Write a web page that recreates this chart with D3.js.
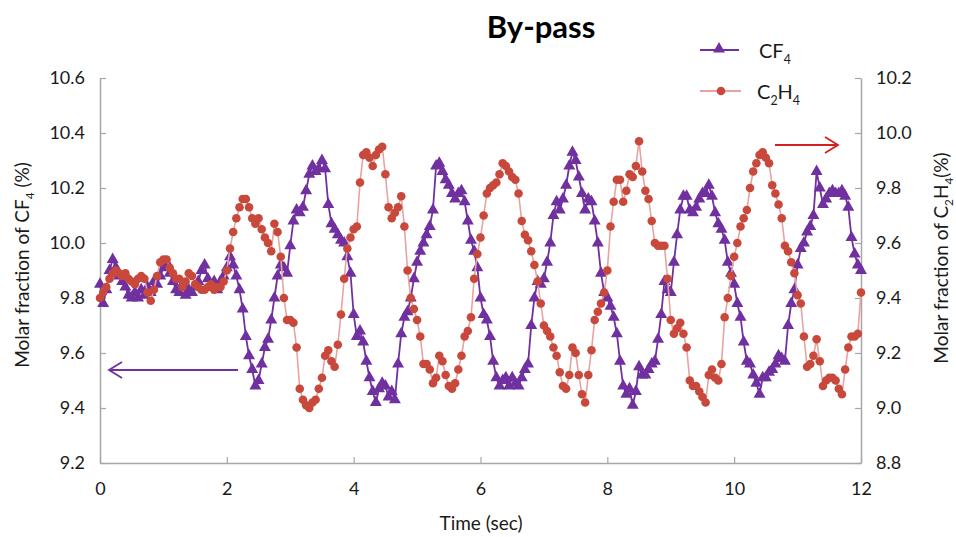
<!DOCTYPE html>
<html>
<head>
<meta charset="utf-8">
<script src="https://cdn.jsdelivr.net/npm/d3@7"></script>
<style>
  html, body { margin: 0; padding: 0; background: #fff; }
  svg { display: block; font-family: Lato, "Open Sans", sans-serif; }
</style>
</head>
<body>
<svg id="chart" width="956" height="537"></svg>
<script>
// ---------------- DATA ----------------
const chartTitle = "By-pass";
const xTicks = [0, 2, 4, 6, 8, 10, 12];
const leftTicks = [9.2, 9.4, 9.6, 9.8, 10.0, 10.2, 10.4, 10.6];
const rightTicks = [8.8, 9.0, 9.2, 9.4, 9.6, 9.8, 10.0, 10.2];

const timeSec = [
  0,0.05,0.1,0.15,0.2,0.25,0.3,0.35,0.4,0.45,0.5,0.55,0.6,0.65,0.7,0.75,0.8,0.85,0.9,0.95,
  1,1.05,1.1,1.15,1.2,1.25,1.3,1.35,1.4,1.45,1.5,1.55,1.6,1.65,1.7,1.75,1.8,1.85,1.9,1.95,
  2,2.05,2.1,2.15,2.2,2.25,2.3,2.35,2.4,2.45,2.5,2.55,2.6,2.65,2.7,2.75,2.8,2.85,2.9,2.95,
  3,3.05,3.1,3.15,3.2,3.25,3.3,3.35,3.4,3.45,3.5,3.55,3.6,3.65,3.7,3.75,3.8,3.85,3.9,3.95,
  4,4.05,4.1,4.15,4.2,4.25,4.3,4.35,4.4,4.45,4.5,4.55,4.6,4.65,4.7,4.75,4.8,4.85,4.9,4.95,
  5,5.05,5.1,5.15,5.2,5.25,5.3,5.35,5.4,5.45,5.5,5.55,5.6,5.65,5.7,5.75,5.8,5.85,5.9,5.95,
  6,6.05,6.1,6.15,6.2,6.25,6.3,6.35,6.4,6.45,6.5,6.55,6.6,6.65,6.7,6.75,6.8,6.85,6.9,6.95,
  7,7.05,7.1,7.15,7.2,7.25,7.3,7.35,7.4,7.45,7.5,7.55,7.6,7.65,7.7,7.75,7.8,7.85,7.9,7.95,
  8,8.05,8.1,8.15,8.2,8.25,8.3,8.35,8.4,8.45,8.5,8.55,8.6,8.65,8.7,8.75,8.8,8.85,8.9,8.95,
  9,9.05,9.1,9.15,9.2,9.25,9.3,9.35,9.4,9.45,9.5,9.55,9.6,9.65,9.7,9.75,9.8,9.85,9.9,9.95,
  10,10.05,10.1,10.15,10.2,10.25,10.3,10.35,10.4,10.45,10.5,10.55,10.6,10.65,10.7,10.75,10.8,10.85,10.9,10.95,
  11,11.05,11.1,11.15,11.2,11.25,11.3,11.35,11.4,11.45,11.5,11.55,11.6,11.65,11.7,11.75,11.8,11.85,11.9,11.95,
  12
];

// CF4 molar fraction (%), left axis
const cf4 = [
  9.85,9.78,9.83,9.90,9.94,9.91,9.88,9.86,9.84,9.81,9.80,9.82,9.80,9.83,9.81,9.84,9.82,9.86,9.85,9.88,
  9.91,9.93,9.89,9.86,9.83,9.82,9.85,9.81,9.83,9.82,9.84,9.86,9.90,9.92,9.87,9.84,9.86,9.83,9.86,9.88,
  9.91,9.95,9.92,9.88,9.83,9.76,9.66,9.59,9.54,9.48,9.50,9.56,9.62,9.65,9.72,9.80,9.88,9.92,9.91,9.89,
  9.99,10.08,10.12,10.11,10.13,10.19,10.25,10.28,10.26,10.27,10.30,10.27,10.14,10.07,10.05,10.03,10.01,10.00,9.95,9.89,
  9.74,9.66,9.68,9.64,9.57,9.51,9.46,9.42,9.47,9.49,9.48,9.44,9.46,9.43,9.56,9.67,9.73,9.75,9.80,9.87,
  9.93,9.97,10.00,10.03,10.06,10.12,10.28,10.29,10.26,10.23,10.21,10.18,10.16,10.18,10.19,10.15,10.08,10.01,9.97,9.91,
  9.80,9.74,9.72,9.66,9.57,9.51,9.48,9.50,9.51,9.48,9.51,9.49,9.48,9.51,9.54,9.56,9.70,9.80,9.86,9.85,
  9.87,9.93,10.00,10.10,10.15,10.12,10.16,10.21,10.28,10.33,10.30,10.24,10.18,10.12,10.16,10.15,10.08,10.00,9.89,9.82,
  9.80,9.77,9.73,9.67,9.57,9.48,9.45,9.47,9.41,9.46,9.55,9.52,9.52,9.54,9.56,9.57,9.65,9.74,9.86,9.83,
  9.82,9.93,10.03,10.12,10.17,10.17,10.12,10.11,10.13,10.16,10.18,10.18,10.21,10.17,10.11,10.07,10.05,10.01,9.93,9.89,
  9.85,9.78,9.73,9.64,9.57,9.56,9.52,9.49,9.45,9.51,9.51,9.53,9.54,9.56,9.59,9.58,9.57,9.70,9.78,9.83,
  9.92,9.98,10.00,10.04,10.06,10.10,10.26,10.20,10.14,10.16,10.18,10.19,10.18,10.18,10.19,10.17,10.13,10.02,9.96,9.92,
  9.90
];

// C2H4 molar fraction (%), right axis
const c2h4 = [
  9.40,9.42,9.44,9.47,9.49,9.50,9.49,9.48,9.49,9.47,9.46,9.45,9.47,9.48,9.47,9.42,9.39,9.43,9.48,9.53,
  9.54,9.54,9.51,9.49,9.47,9.47,9.44,9.46,9.49,9.48,9.45,9.44,9.43,9.43,9.44,9.45,9.43,9.44,9.44,9.46,
  9.50,9.58,9.64,9.69,9.73,9.76,9.76,9.73,9.69,9.67,9.69,9.65,9.62,9.60,9.57,9.67,9.64,9.55,9.40,9.32,
  9.32,9.31,9.22,9.07,9.03,9.01,9.00,9.02,9.03,9.07,9.11,9.19,9.21,9.17,9.15,9.23,9.34,9.47,9.58,9.62,
  9.65,9.66,9.82,9.92,9.93,9.91,9.88,9.92,9.94,9.95,9.85,9.73,9.69,9.71,9.73,9.77,9.66,9.50,9.40,9.36,
  9.32,9.26,9.16,9.16,9.14,9.09,9.11,9.19,9.17,9.12,9.08,9.07,9.09,9.14,9.19,9.26,9.28,9.33,9.47,9.56,
  9.62,9.70,9.78,9.80,9.81,9.82,9.85,9.89,9.88,9.86,9.84,9.83,9.78,9.68,9.63,9.61,9.57,9.52,9.46,9.38,
  9.30,9.28,9.26,9.22,9.19,9.13,9.08,9.07,9.12,9.22,9.20,9.12,9.05,9.02,9.12,9.21,9.32,9.35,9.38,9.42,
  9.50,9.66,9.75,9.83,9.83,9.75,9.79,9.85,9.84,9.88,9.97,9.86,9.79,9.76,9.68,9.60,9.59,9.59,9.59,9.47,
  9.32,9.27,9.29,9.31,9.27,9.22,9.10,9.08,9.08,9.06,9.04,9.02,9.12,9.14,9.11,9.10,9.16,9.33,9.40,9.48,
  9.55,9.60,9.66,9.69,9.72,9.80,9.86,9.89,9.92,9.93,9.91,9.89,9.81,9.78,9.74,9.69,9.59,9.57,9.53,9.49,
  9.41,9.38,9.26,9.15,9.16,9.19,9.25,9.17,9.08,9.10,9.11,9.11,9.10,9.07,9.05,9.14,9.22,9.26,9.26,9.27,
  9.42
];

// ---------------- CHART ----------------
const svg = d3.select("#chart");
const plot = { left: 100, right: 861, top: 78, bottom: 463 };

const x = d3.scaleLinear().domain([0, 12]).range([plot.left, plot.right]);
const yL = d3.scaleLinear().domain([9.2, 10.6]).range([plot.bottom, plot.top]);
const yR = d3.scaleLinear().domain([8.8, 10.2]).range([plot.bottom, plot.top]);

const purple = "#7030a0";
const redMarker = "#c8493c";
const redLine = "#e8a3a0";
const axisColor = "#a6a6a6";
const textColor = "#1a1a1a";

function styleAxis(g) {
  g.select(".domain").attr("stroke", axisColor).attr("stroke-width", 1.5);
  g.selectAll(".tick line").attr("stroke", axisColor).attr("stroke-width", 1.2);
  g.selectAll(".tick text").attr("fill", textColor).style("font-size", "18px")
    .style("font-family", "Lato, 'Open Sans', sans-serif");
}

svg.append("g")
  .attr("transform", `translate(0,${plot.bottom})`)
  .call(d3.axisBottom(x).tickValues(xTicks).tickFormat(d3.format("d")).tickSize(-6).tickSizeOuter(0).tickPadding(19))
  .call(styleAxis);

svg.append("g")
  .attr("transform", `translate(${plot.left},0)`)
  .call(d3.axisLeft(yL).tickValues(leftTicks).tickFormat(d3.format(".1f")).tickSize(-6).tickSizeOuter(0).tickPadding(15))
  .call(styleAxis);

svg.append("g")
  .attr("transform", `translate(${plot.right},0)`)
  .call(d3.axisRight(yR).tickValues(rightTicks).tickFormat(d3.format(".1f")).tickSize(-6).tickSizeOuter(0).tickPadding(15))
  .call(styleAxis);

// Series data
const cf4Data = timeSec.map((t, i) => ({ t, v: cf4[i] }));
const c2h4Data = timeSec.map((t, i) => ({ t, v: c2h4[i] }));

// CF4 line + triangles
svg.append("path")
  .datum(cf4Data)
  .attr("fill", "none")
  .attr("stroke", purple)
  .attr("stroke-width", 1.8)
  .attr("d", d3.line().x(d => x(d.t)).y(d => yL(d.v)));

const tri = d3.symbol().type(d3.symbolTriangle).size(62);
svg.append("g").selectAll("path")
  .data(cf4Data)
  .join("path")
  .attr("d", tri)
  .attr("transform", d => `translate(${x(d.t)},${yL(d.v)})`)
  .attr("fill", purple);

// C2H4 line + circles
svg.append("path")
  .datum(c2h4Data)
  .attr("fill", "none")
  .attr("stroke", redLine)
  .attr("stroke-width", 1.6)
  .attr("d", d3.line().x(d => x(d.t)).y(d => yR(d.v)));

svg.append("g").selectAll("circle")
  .data(c2h4Data)
  .join("circle")
  .attr("cx", d => x(d.t))
  .attr("cy", d => yR(d.v))
  .attr("r", 4.3)
  .attr("fill", redMarker);

// Arrows
function arrow(x1, x2, yv, color) {
  const dir = x2 < x1 ? 1 : -1;
  svg.append("line").attr("x1", x1).attr("x2", x2).attr("y1", yv).attr("y2", yv)
    .attr("stroke", color).attr("stroke-width", 1.8);
  svg.append("path")
    .attr("d", `M${x2 + dir * 13},${yv - 8} L${x2},${yv} L${x2 + dir * 13},${yv + 8}`)
    .attr("fill", "none").attr("stroke", color).attr("stroke-width", 1.8);
}
arrow(238, 109, 370, purple);
arrow(775, 838, 145, "#d42020");

// Title
svg.append("text")
  .attr("x", 541).attr("y", 38)
  .attr("text-anchor", "middle")
  .style("font-size", "31px").style("font-weight", "bold")
  .attr("fill", "#000")
  .text(chartTitle);

// Chemical-formula labels: parts with sub:true are lowered; the following part is raised back
function chemLabel(sel, parts, size) {
  let lowered = false;
  parts.forEach(p => {
    const ts = sel.append("tspan").text(p.t);
    if (p.sub) {
      ts.attr("dy", lowered ? 0 : size * 0.28).style("font-size", (size * 0.62) + "px");
      lowered = true;
    } else if (lowered) {
      ts.attr("dy", -size * 0.28);
      lowered = false;
    }
  });
}

svg.append("text")
  .attr("x", 481).attr("y", 530)
  .attr("text-anchor", "middle")
  .style("font-size", "19px").attr("fill", textColor)
  .text("Time (sec)");

const leftTitle = svg.append("text")
  .attr("transform", "translate(29,265) rotate(-90)")
  .attr("text-anchor", "middle")
  .style("font-size", "19px").attr("fill", textColor);
chemLabel(leftTitle, [{ t: "Molar fraction of CF" }, { t: "4", sub: true }, { t: " (%)" }], 19);

const rightTitle = svg.append("text")
  .attr("transform", "translate(948,258) rotate(-90)")
  .attr("text-anchor", "middle")
  .style("font-size", "19px").attr("fill", textColor);
chemLabel(rightTitle, [{ t: "Molar fraction of C" }, { t: "2", sub: true }, { t: "H" }, { t: "4", sub: true }, { t: "(%)" }], 19);

// Legend
const legend = svg.append("g");
legend.append("line").attr("x1", 700).attr("x2", 739).attr("y1", 50).attr("y2", 50)
  .attr("stroke", purple).attr("stroke-width", 2);
legend.append("path").attr("d", tri).attr("transform", "translate(719,49)").attr("fill", purple);
const lt1 = legend.append("text").attr("x", 759).attr("y", 58).style("font-size", "20px").attr("fill", textColor);
chemLabel(lt1, [{ t: "CF" }, { t: "4", sub: true }], 20);

legend.append("line").attr("x1", 700).attr("x2", 741).attr("y1", 91).attr("y2", 91)
  .attr("stroke", redLine).attr("stroke-width", 2);
legend.append("circle").attr("cx", 721).attr("cy", 91).attr("r", 4.3).attr("fill", redMarker);
const lt2 = legend.append("text").attr("x", 757).attr("y", 99).style("font-size", "20px").attr("fill", textColor);
chemLabel(lt2, [{ t: "C" }, { t: "2", sub: true }, { t: "H" }, { t: "4", sub: true }], 20);
</script>
</body>
</html>
